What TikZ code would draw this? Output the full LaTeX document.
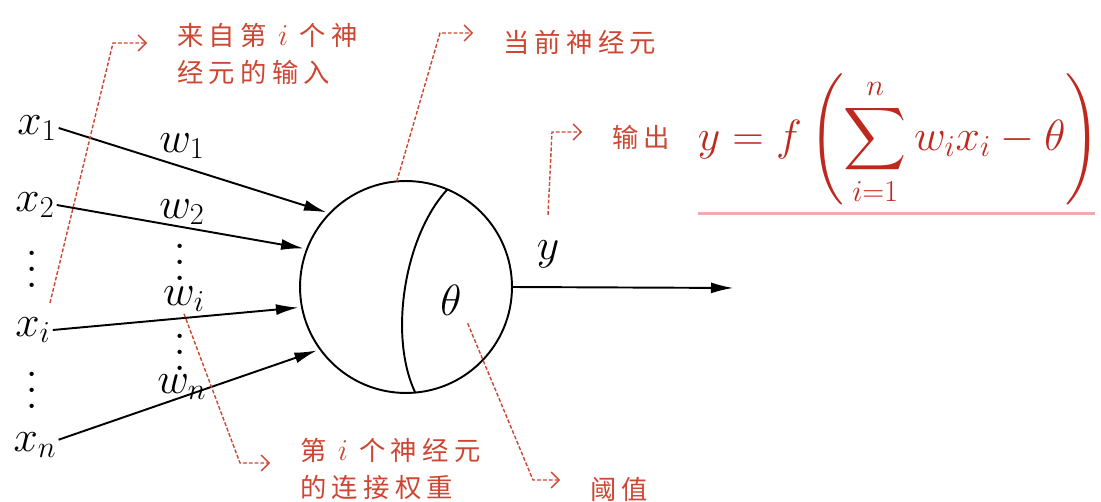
\documentclass[tikz,border=0pt]{standalone}
\usepackage{fontspec}
\usepackage{amsmath}
\usetikzlibrary{positioning, calc, arrows.meta}
\newfontfamily\cjk[LetterSpace=20]{Noto Sans CJK SC}
\newcommand{\noteidx}{{\fontsize{19}{21}\selectfont$i$}}
\definecolor{notered}{RGB}{205,70,50}
\definecolor{eqred}{RGB}{190,40,30}
\definecolor{linepink}{RGB}{242,170,175}

\begin{document}
\begin{tikzpicture}[x=0.02cm, y=-0.02cm,
        mathlab/.style={font=\fontsize{24}{28}\selectfont, inner sep=1pt},
        dotslab/.style={font=\fontsize{10}{12}\selectfont, inner sep=0pt},
        note/.style={font=\cjk\fontsize{15}{21}\selectfont, text=notered, align=left, anchor=west, inner sep=0pt},
        wire/.style={line width=1.1pt, shorten >=2pt, -{Latex[length=4.5mm,width=2.2mm]}},
        leader/.style={notered, line width=0.8pt, dash pattern=on 2.2pt off 1.1pt, shorten >=0.6cm, -{Straight Barb[length=1.6mm,width=3.2mm]}}]
        \useasboundingbox (0,0) rectangle (1101,502);
        %neurone
        \node[circle, draw, line width=1.1pt, minimum size=4.24cm, inner sep=0pt, outer sep=0pt] (neuron) at (406,287) {};
        \draw[line width=1.1pt] (neuron.67) .. controls (405,235) and (388,335) .. (neuron.-85);
        \node[mathlab] (theta) at (451,300) {$\theta$};
        %ingressi
        \node[mathlab] (x1) at (37,128) {$x_1$};
        \node[mathlab] (x2) at (35,205) {$x_2$};
        \node[dotslab] (xdots1) at (32,257) {\scalebox{2.3}{$\vdots$}};
        \node[mathlab] (xi) at (33,330) {$x_i$};
        \node[dotslab] (xdots2) at (32,378) {\scalebox{2.3}{$\vdots$}};
        \node[mathlab] (xn) at (35,445) {$x_n$};
        %pesi
        \node[mathlab] (w1) at (182,146) {$w_1$};
        \node[mathlab] (w2) at (182,212) {$w_2$};
        \node[dotslab] (wdots1) at (180,250) {\scalebox{2.3}{$\vdots$}};
        \node[mathlab] (wi) at (184,299) {$w_i$};
        \node[dotslab] (wdots2) at (180,340) {\scalebox{2.3}{$\vdots$}};
        \node[mathlab] (wn) at (182,387) {$w_n$};
        %frecce
        \draw[wire] (x1.east) -- (neuron.136);
        \draw[wire] (x2.east) -- (neuron.159);
        \draw[wire] (xi.east) -- (neuron.191);
        \draw[wire] ([yshift=3pt]xn.east) -- (neuron.216);
        \coordinate (out) at (737,288);
        \draw[wire] (neuron.east) -- (out);
        \node[mathlab] (y) at (548,254) {$y$};
        %formula
        \node[mathlab, font=\fontsize{23.5}{28}\selectfont, text=eqred, inner sep=2pt] (eq) at (899,140) {$\displaystyle y = f\left(\sum_{i=1}^{n} w_i x_i - \theta\right)$};
        \draw[linepink, line width=1.8pt] ([shift={(4,-2pt)}]eq.south west) -- ([shift={(-9,-2pt)}]eq.south east);
        %note
        \node[note] (n1) at (177,54) {来自第 \noteidx{} 个神\\经元的输入};
        \node[note] (n2) at (503,42) {当前神经元};
        \node[note] (n3) at (612,137) {输出};
        \node[note] (n4) at (300,469) {第 \noteidx{} 个神经元\\的连接权重};
        \node[note] (n5) at (590,489) {阈值};
        %linee tratteggiate
        \coordinate (s1) at (50,303);
        \coordinate (c1) at (113,43);
        \draw[leader] (s1) -- (c1) -- (c1 -| n1.west);
        \coordinate (c2) at (440,33);
        \draw[leader] (neuron.95) -- (c2) -- (c2 -| n2.west);
        \coordinate (s3) at (548,215);
        \coordinate (c3) at (552,132);
        \draw[leader] (s3) -- (c3) -- (c3 -| n3.west);
        \coordinate (c4) at (240,463);
        \draw[leader] (wi.south) -- (c4) -- (c4 -| n4.west);
        \coordinate (c5) at (533,480);
        \draw[leader] ([shift={(4,6)}]theta.south east) -- (c5) -- (c5 -| n5.west);
    \end{tikzpicture}
\end{document}
